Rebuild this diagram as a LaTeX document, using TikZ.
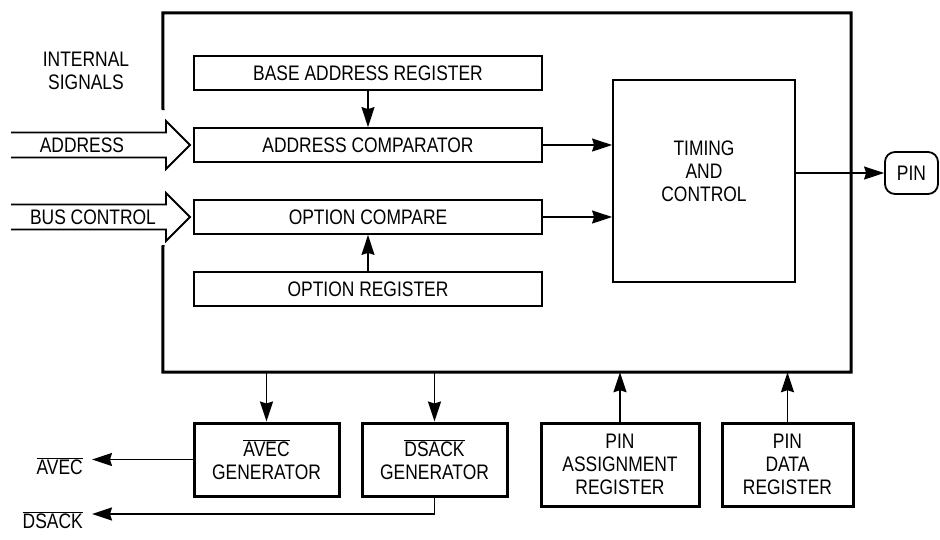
\documentclass[tikz,border=0pt]{standalone}
\usepackage{fontspec}
\setmainfont{Liberation Sans}[FakeStretch=0.83]
\usetikzlibrary{arrows.meta}
\newcommand\ovl[1]{$\overline{\hbox{#1}}$}
\begin{document}
\begin{tikzpicture}[x=1pt,y=-1pt,
  font=\fontsize{21}{23}\selectfont,
  thinbox/.style={draw, line width=1.8pt, inner sep=0pt, align=center},
  thickbox/.style={draw, line width=3pt, inner sep=0pt, align=center},
  conn/.style={line width=1.8pt, -{Stealth[length=20pt,width=13pt,inset=2pt]}},
  hollow/.style={line width=1.8pt, line join=miter},
  lbl/.style={inner sep=0pt, align=center}]
\useasboundingbox (0,0) rectangle (940,539);

% outer frame (invisible node, edge drawn with a gap on the left)
\node[inner sep=0pt, minimum width=688pt, minimum height=359pt] (outer) at (507,192.5) {};
\draw[line width=3pt, line join=miter] (163,110) -- (outer.north west) -- (outer.north east)
  -- (outer.south east) -- (outer.south west) -- (163,245);

% inner boxes
\node[thinbox, minimum width=348pt, minimum height=34pt] (base) at (368,73) {BASE ADDRESS REGISTER};
\node[thinbox, minimum width=348pt, minimum height=34pt] (addr) at (368,145) {ADDRESS COMPARATOR};
\node[thinbox, minimum width=348pt, minimum height=34pt] (optc) at (368,217) {OPTION COMPARE};
\node[thinbox, minimum width=348pt, minimum height=34pt] (optr) at (368,289) {OPTION REGISTER};
\node[thinbox, minimum width=182pt, minimum height=202pt] (timing) at (704,181) {};
\node[lbl] (timingtext) at (704,171) {TIMING\\AND\\CONTROL};
\node[thinbox, rounded corners=10pt, minimum width=53pt, minimum height=42pt] (pin) at (911.5,173) {PIN};

% bottom boxes
\node[thickbox, minimum width=145pt, minimum height=73pt] (avecg) at (266.5,459.5) {\ovl{AVEC}\\GENERATOR};
\node[thickbox, minimum width=145pt, minimum height=73pt] (dsackg) at (434.5,459.5) {\ovl{DSACK}\\GENERATOR};
\node[thickbox, minimum width=158pt, minimum height=83pt] (pinasg) at (620,464.5) {PIN\\ASSIGNMENT\\REGISTER};
\node[thickbox, minimum width=131pt, minimum height=83pt] (pindat) at (787.5,464.5) {PIN\\DATA\\REGISTER};

% left labels
\node[lbl] (intsig) at (86,70.5) {INTERNAL\\SIGNALS};
\node[lbl] (addrl) at (82,145) {ADDRESS};
\node[lbl] (busl) at (93,217) {BUS CONTROL};
\node[lbl, anchor=base east] (avecl) at (83,474) {\ovl{AVEC}};
\node[lbl, anchor=base east] (dsackl) at (83,528) {\ovl{DSACK}};
\coordinate (avecend) at (92,459.5);
\coordinate (dsackend) at (92,514);

% hollow bus arrows
\draw[hollow] (11,132.5) -- (166,132.5) -- (166,121) -- (190,145) -- (166,169) -- (166,157.5) -- (11,157.5);
\draw[hollow] (11,204.5) -- (166,204.5) -- (166,193) -- (190,217) -- (166,241) -- (166,229.5) -- (11,229.5);

% connectors
\draw[conn] (base.south) -- (addr.north);
\draw[conn] (optr.north) -- (optc.south);
\draw[conn] (addr.east) -- (addr.east -| timing.west);
\draw[conn] (optc.east) -- (optc.east -| timing.west);
\draw[conn] (timing.east |- pin.west) -- (pin.west);
\draw[conn] (outer.south -| avecg.north) -- (avecg.north);
\draw[conn] (outer.south -| dsackg.north) -- (dsackg.north);
\draw[conn] (pinasg.north) -- (pinasg.north |- outer.south);
\draw[conn] (pindat.north) -- (pindat.north |- outer.south);
\draw[conn] (avecg.west) -- (avecend);
\draw[conn] (dsackg.south) |- (dsackend);
\end{tikzpicture}
\end{document}
